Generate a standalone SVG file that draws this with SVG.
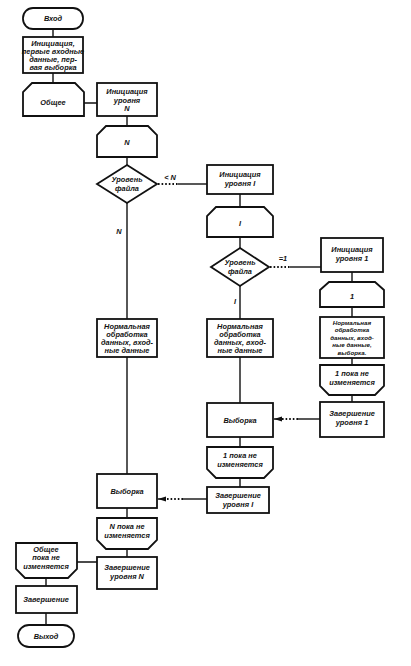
<svg xmlns="http://www.w3.org/2000/svg" width="411" height="666" viewBox="0 0 411 666">
<style>
.b{fill:#fff;stroke:#111;stroke-width:1.8}
.l{fill:none;stroke:#111;stroke-width:1.4}
.d{fill:none;stroke:#111;stroke-width:1.8;stroke-dasharray:1.6 2}
text{font-family:"Liberation Sans",Arial,sans-serif;font-style:italic;font-weight:bold;font-size:7.4px;fill:#111;text-anchor:middle}
.s{font-size:6.2px}
</style>
<defs>
<marker id="ah" viewBox="0 0 8 6" refX="8" refY="3" markerWidth="8" markerHeight="6" markerUnits="userSpaceOnUse" orient="auto">
<path d="M0,0.5 L8,3 L0,5.5 Z" fill="#111"/>
</marker>
</defs>
<rect width="411" height="666" fill="#fff"/>
<g id="connectors">
<path class="l" d="M53,29 V37 M53,73 V83 M84,103 H97 M127,116 V126 M127,157 V165 M127,203 V319 M127,357 V474 M127,508 V518 M127,549 V557 M77,562 H97 M46,578 V586 M46,613 V625"/>
<path class="d" d="M158,184 H178"/>
<path class="l" d="M178,184 H207"/>
<path class="l" d="M240,194 V207 M240,237 V248 M240,286 V319 M240,357 V403 M240,437 V447 M240,478 V487"/>
<path class="d" d="M270,267 H290"/>
<path class="l" d="M290,267 H321"/>
<path class="l" d="M352,272 V282 M352,307 V317 M352,358 V365 M352,395 V402"/>
<path class="l" d="M320,419 H298"/>
<path class="d" d="M298,419 H279"/>
<path class="l" d="M280,419 H274" marker-end="url(#ah)"/>
<path class="l" d="M207,499 H183"/>
<path class="d" d="M183,499 H164"/>
<path class="l" d="M165,499 H158" marker-end="url(#ah)"/>
<text x="170" y="180">&lt; N</text>
<text x="283" y="261">=1</text>
<text x="119" y="234">N</text>
<text x="235" y="304">I</text>
</g>
<g id="start"><rect class="b" x="23" y="8" width="60" height="21" rx="10"/><text x="53" y="21">Вход</text></g>
<g id="init"><rect class="b" x="23" y="37" width="60" height="36"/><text x="53" y="46" font-size="7">Инициация,</text><text x="53" y="54" font-size="7">первые входные</text><text x="53" y="62" font-size="7">данные, пер-</text><text x="53" y="70" font-size="7">вая выборка</text></g>
<g id="common"><path class="b" d="M32,83 H75 L84,92 V116 H23 V92 Z"/><text x="53" y="105">Общее</text></g>
<g id="initN"><rect class="b" x="97" y="83" width="60" height="33"/><text x="127" y="94">Инициация</text><text x="127" y="102.5">уровня</text><text x="127" y="111">N</text></g>
<g id="loopN"><path class="b" d="M106,126 H148 L157,135 V157 H97 V135 Z"/><text x="127" y="145">N</text></g>
<g id="dec1"><path class="b" d="M127,165 L157,184 L127,203 L97,184 Z"/><text x="127" y="182">Уровень</text><text x="127" y="190.5">файла</text></g>
<g id="initI"><rect class="b" x="207" y="165" width="66" height="29"/><text x="240" y="177">Инициация</text><text x="240" y="186">уровня I</text></g>
<g id="loopI"><path class="b" d="M216,207 H264 L273,216 V237 H207 V216 Z"/><text x="240" y="226">I</text></g>
<g id="dec2"><path class="b" d="M240,248 L269,267 L240,286 L211,267 Z"/><text x="240" y="265">Уровень</text><text x="240" y="273.5">файла</text></g>
<g id="init1"><rect class="b" x="321" y="238" width="62" height="34"/><text x="352" y="252">Инициация</text><text x="352" y="261">уровня 1</text></g>
<g id="loop1"><path class="b" d="M329,282 H375 L384,290 V307 H320 V290 Z"/><text x="352" y="299">1</text></g>
<g id="normN"><rect class="b" x="97" y="319" width="60" height="38"/><text x="127" y="329">Нормальная</text><text x="127" y="337">обработка</text><text x="127" y="345">данных, вход-</text><text x="127" y="353">ные данные</text></g>
<g id="normI"><rect class="b" x="207" y="319" width="66" height="38"/><text x="240" y="329">Нормальная</text><text x="240" y="337">обработка</text><text x="240" y="345">данных, вход-</text><text x="240" y="353">ные данные</text></g>
<g id="norm1"><rect class="b" x="320" y="317" width="64" height="41"/><text class="s" x="352" y="324.5">Нормальная</text><text class="s" x="352" y="332.1">обработка</text><text class="s" x="352" y="339.7">данных, вход-</text><text class="s" x="352" y="347.3">ные данные,</text><text class="s" x="352" y="354.9">выборка.</text></g>
<g id="end1loop"><path class="b" d="M320,365 H384 V386 L375,395 H329 L320,386 Z"/><text x="352" y="376">1 пока не</text><text x="352" y="385">изменяется</text></g>
<g id="fin1"><rect class="b" x="320" y="402" width="64" height="35"/><text x="352" y="416">Завершение</text><text x="352" y="425">уровня 1</text></g>
<g id="selI"><rect class="b" x="207" y="403" width="66" height="34"/><text x="240" y="423">Выборка</text></g>
<g id="endIloop"><path class="b" d="M207,447 H273 V469 L264,478 H216 L207,469 Z"/><text x="240" y="458">1 пока не</text><text x="240" y="467">изменяется</text></g>
<g id="finI"><rect class="b" x="207" y="487" width="62" height="26"/><text x="238" y="498">Завершение</text><text x="238" y="507">уровня I</text></g>
<g id="selN"><rect class="b" x="97" y="474" width="60" height="34"/><text x="127" y="494">Выборка</text></g>
<g id="endNloop"><path class="b" d="M97,518 H157 V540 L148,549 H106 L97,540 Z"/><text x="127" y="529">N пока не</text><text x="127" y="538">изменяется</text></g>
<g id="finN"><rect class="b" x="97" y="557" width="60" height="32"/><text x="127" y="570">Завершение</text><text x="127" y="579">уровня N</text></g>
<g id="endCommon"><path class="b" d="M16,543 H77 V569 L68,578 H25 L16,569 Z"/><text x="46" y="552">Общее</text><text x="46" y="560">пока не</text><text x="46" y="568.5">изменяется</text></g>
<g id="finish"><rect class="b" x="16" y="586" width="61" height="27"/><text x="46" y="602">Завершение</text></g>
<g id="exit"><rect class="b" x="18" y="625" width="56" height="22" rx="11"/><text x="46" y="638.5">Выход</text></g>
</svg>
